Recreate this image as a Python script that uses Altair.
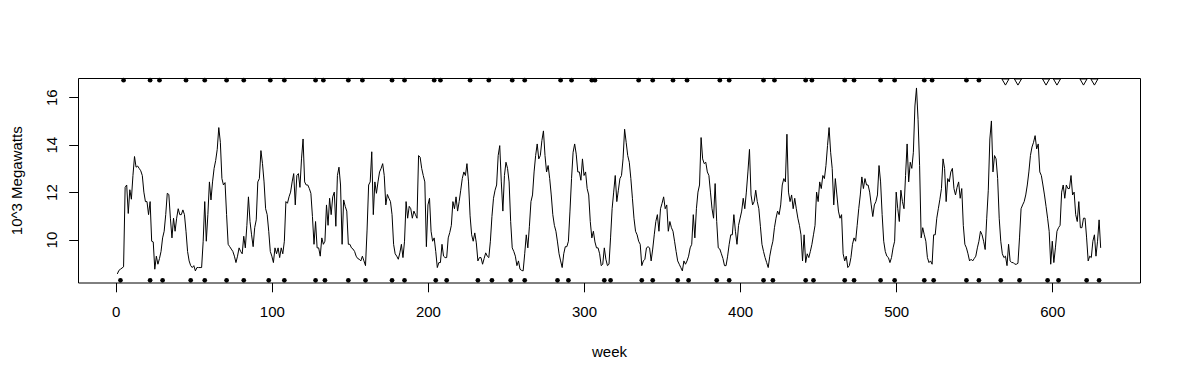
import altair as alt
import pandas as pd

# Weekly demand, 10^3 MW in segments (first week of each segment given)
seg_start = [1, 73, 154, 234, 315, 395, 474, 554]
seg_a = [8.55, 8.7, 8.75, 8.8, 8.85, 12.2, 12.3, 11.1, 12.1, 11.7, 12.7, 13.5, 13.05, 13.1, 13.0, 12.9,
         12.7, 12.0, 11.6, 11.6, 11.05, 11.6, 9.93, 9.9, 8.75, 9.3, 8.96, 9.2, 9.5, 10.07, 10.35, 11.05,
         11.95, 11.9, 10.9, 10.07, 10.9, 10.35, 10.9, 11.3, 11.05, 11.05, 11.25, 11.05, 10.35, 9.5, 9.1,
         8.9, 8.82, 8.9, 8.68, 8.82, 8.82, 8.82, 8.82, 9.93, 11.6, 9.93, 11.05, 12.43, 11.67, 12.43, 13.0,
         13.33, 13.8, 14.72, 14.1, 12.57, 12.3, 12.4, 11.05, 9.8]
seg_b = [9.7, 9.6, 9.5, 9.3, 9.03, 9.3, 9.65, 9.5, 9.4, 10.14, 9.65, 10.6, 11.8, 10.76, 10.2, 9.7, 10.5,
         10.83, 12.43, 12.57, 13.75, 13.2, 12.43, 11.3, 11.05, 10.35, 9.5, 9.3, 9.03, 9.65, 9.4, 9.65,
         9.24, 9.65, 9.4, 9.93, 11.6, 11.53, 11.8, 12.0, 12.43, 12.78, 11.46, 12.7, 12.78, 12.2, 13.4,
         14.24, 12.43, 12.3, 12.3, 12.15, 11.95, 10.97, 9.8, 10.76, 9.65, 9.65, 9.3, 10.07, 9.8, 9.93,
         11.46, 10.6, 11.74, 11.05, 11.8, 12.0, 10.56, 12.7, 13.05, 12.3, 9.8, 11.67, 11.4, 11.2, 9.8, 9.8,
         9.65, 9.6, 9.5]
seg_c = [9.3, 9.2, 9.17, 9.1, 9.3, 9.1, 8.9, 10.4, 12.3, 12.43, 13.7, 11.05, 12.43, 11.95, 12.43, 12.85,
         13.0, 13.2, 12.7, 11.46, 11.9, 11.74, 11.6, 11.05, 9.8, 9.4, 9.3, 9.17, 9.44, 9.8, 9.24, 9.93,
         11.6, 10.9, 11.4, 11.3, 10.9, 11.2, 11.05, 10.9, 13.54, 13.47, 13.0, 12.7, 12.43, 9.7, 11.46,
         11.74, 10.35, 9.93, 10.07, 9.5, 8.82, 9.03, 9.03, 9.8, 9.3, 9.24, 9.24, 10.07, 10.3, 10.6, 11.6,
         11.3, 11.8, 11.2, 11.6, 12.08, 12.57, 12.85, 12.7, 13.2, 12.43, 11.0, 10.2, 9.93, 10.28, 9.86,
         9.1, 9.24]
seg_d = [9.24, 8.96, 9.2, 9.44, 9.3, 9.24, 9.93, 10.97, 11.74, 12.08, 12.3, 13.54, 13.96, 12.43, 11.2,
         12.7, 13.26, 13.0, 12.43, 10.76, 9.65, 9.5, 9.3, 8.9, 9.1, 8.75, 8.7, 8.68, 9.4, 10.2, 9.65,
         10.56, 11.6, 11.88, 12.85, 13.54, 14.03, 13.4, 13.54, 14.17, 14.58, 13.54, 12.85, 13.12, 12.57,
         11.88, 11.05, 10.6, 10.35, 9.9, 9.4, 9.1, 8.82, 9.4, 9.7, 9.7, 9.93, 11.2, 12.57, 13.68, 14.03,
         13.6, 12.85, 12.85, 12.5, 13.4, 12.7, 12.85, 12.15, 11.88, 10.76, 10.07, 10.35, 9.9, 9.65, 9.65,
         9.4, 8.9, 8.96, 9.65, 9.17]
seg_e = [8.9, 8.96, 10.07, 11.3, 12.0, 12.7, 11.6, 12.08, 12.57, 12.7, 13.4, 14.65, 14.1, 13.54, 13.26,
         12.57, 11.74, 10.9, 10.35, 10.2, 9.93, 9.8, 8.9, 9.1, 9.17, 9.65, 9.7, 9.65, 9.1, 9.6, 10.2,
         10.76, 11.05, 10.35, 11.3, 11.53, 11.8, 11.3, 11.46, 10.35, 10.76, 10.5, 10.35, 9.93, 9.5, 9.1,
         8.96, 8.82, 8.68, 9.1, 8.96, 9.1, 9.3, 9.65, 9.8, 11.05, 10.07, 11.3, 12.0, 12.3, 14.3, 13.4,
         13.2, 13.26, 12.85, 12.7, 12.0, 11.3, 10.9, 12.36, 10.76, 9.65, 9.6, 9.4, 9.2, 8.9, 8.9, 9.3,
         9.8, 10.2]
seg_f = [10.2, 11.05, 10.35, 9.8, 10.6, 10.9, 11.2, 11.74, 11.3, 12.0, 12.85, 13.8, 11.88, 11.46, 11.6,
         12.08, 11.6, 11.3, 10.56, 9.8, 9.5, 9.24, 9.03, 8.82, 9.3, 9.65, 9.93, 10.5, 10.9, 11.2, 11.05,
         11.46, 12.3, 12.57, 12.43, 14.44, 12.0, 11.6, 11.88, 11.3, 11.74, 11.3, 10.9, 10.6, 10.2, 9.1,
         10.2, 9.03, 9.4, 9.24, 9.5, 9.8, 10.2, 10.6, 12.0, 11.6, 12.43, 12.15, 12.7, 12.57, 13.12, 13.96,
         14.72, 13.68, 13.0, 11.46, 12.57, 11.88, 11.2, 10.9, 11.05, 9.4, 9.1, 9.3, 8.82, 8.9, 9.24, 9.8,
         10.07]
seg_g = [9.93, 10.6, 11.3, 11.88, 12.64, 12.15, 12.57, 12.3, 12.3, 12.0, 11.46, 10.97, 11.46, 11.6, 11.88,
         13.12, 12.43, 11.05, 9.93, 9.5, 9.3, 9.24, 9.03, 9.24, 9.65, 9.93, 12.0, 11.3, 10.76, 12.08,
         11.6, 11.3, 12.7, 14.03, 12.43, 13.26, 13.0, 13.68, 15.63, 16.39, 15.07, 13.12, 10.07, 10.5, 10.2,
         9.93, 9.24, 9.03, 9.1, 8.96, 10.2, 10.2, 10.9, 11.3, 11.7, 12.15, 13.4, 13.0, 11.6, 12.57, 12.43,
         12.85, 13.0, 12.15, 11.88, 12.2, 12.43, 11.74, 12.15, 10.6, 9.8, 9.65, 9.4, 9.1, 9.17, 9.1, 9.2,
         9.3, 9.65, 9.93]
seg_h = [10.35, 10.2, 9.93, 9.58, 10.9, 12.08, 14.24, 15.0, 12.85, 13.54, 13.4, 12.57, 10.9, 9.93, 9.4,
         9.24, 9.3, 8.9, 9.8, 9.1, 9.03, 9.03, 8.96, 8.96, 9.0, 10.07, 11.3, 11.46, 11.6, 11.88, 12.3,
         12.85, 13.54, 13.9, 14.1, 14.38, 13.82, 14.03, 12.85, 12.7, 12.3, 11.88, 11.4, 10.9, 10.35, 8.96,
         9.93, 9.03, 9.65, 10.35, 10.5, 10.6, 12.0, 12.3, 11.74, 12.3, 12.15, 12.15, 12.7, 11.88, 12.0,
         11.05, 10.76, 11.6, 10.5, 10.5, 10.9, 10.9, 10.07, 9.1, 9.3, 9.24, 9.93, 10.2, 9.3, 9.93, 10.83,
         9.65]
segments = [seg_a, seg_b, seg_c, seg_d, seg_e, seg_f, seg_g, seg_h]

# Marker weeks
top_dot_weeks = [5, 22, 28, 45, 57, 71, 82, 99, 108, 128, 133, 149, 158, 177, 185, 204, 208, 227, 239,
                 254, 262, 285, 292, 305, 307, 335, 344, 357, 366, 387, 393, 415, 422, 442, 446, 467,
                 473, 490, 499, 518, 523, 545, 553]
bottom_dot_weeks = [3, 22, 30, 48, 57, 71, 82, 98, 108, 128, 134, 149, 160, 177, 185, 205, 212, 232, 241,
                    253, 262, 283, 290, 313, 317, 337, 344, 360, 367, 385, 393, 415, 421, 442, 447, 467,
                    473, 490, 499, 518, 524, 545, 553, 567, 579, 597, 604, 622, 630]
triangle_weeks = [570, 578, 596, 603, 620, 627]
top_level = 16.72
bottom_level = 8.28
triangle_level = 16.64

x_ticks = [0, 100, 200, 300, 400, 500, 600]
y_ticks = [10, 12, 14, 16]
x_domain = [-24.2, 656.2]
y_domain = [8.19, 16.81]

rows = []
for start, seg in zip(seg_start, segments):
    for i, v in enumerate(seg):
        rows.append({"week": start + i, "mw": v})
series = pd.DataFrame(rows)
top_df = pd.DataFrame({"week": top_dot_weeks, "mw": [top_level] * len(top_dot_weeks)})
bot_df = pd.DataFrame({"week": bottom_dot_weeks, "mw": [bottom_level] * len(bottom_dot_weeks)})
tri_df = pd.DataFrame({"week": triangle_weeks, "mw": [triangle_level] * len(triangle_weeks)})

FONT = "Liberation Sans"
W, H = 1062, 204.5

xscale = alt.Scale(domain=x_domain, nice=False, zero=False)
yscale = alt.Scale(domain=y_domain, nice=False, zero=False)

xaxis = alt.Axis(values=x_ticks, title="week", grid=False, domain=False, tickColor="black",
                 tickSize=9.3, labelFont=FONT, labelFontSize=15, labelColor="black",
                 labelBaseline="alphabetic", labelPadding=25, labelFlush=False,
                 titleFont=FONT, titleFontSize=15, titleFontWeight="normal", titleColor="black",
                 titleBaseline="alphabetic", titleY=73.7, titleX=W / 2 + 0, titleAlign="center")
yaxis = alt.Axis(values=y_ticks, title="10^3 Megawatts", grid=False, domain=False, tickColor="black",
                 tickSize=9.3, labelFont=FONT, labelFontSize=15, labelColor="black", labelAngle=270,
                 labelAlign="center", labelBaseline="alphabetic", labelPadding=12.7, labelFlush=False,
                 titleFont=FONT, titleFontSize=15, titleFontWeight="normal", titleColor="black",
                 titleAngle=270, titleAlign="center", titleBaseline="alphabetic", titleX=-57, titleY=H / 2)

line = alt.Chart(series).mark_line(color="black", strokeWidth=1, clip=True).encode(
    x=alt.X("week:Q", scale=xscale, axis=xaxis),
    y=alt.Y("mw:Q", scale=yscale, axis=yaxis),
)
top_pts = alt.Chart(top_df).mark_point(shape="circle", filled=True, color="black", size=22, opacity=1).encode(
    x=alt.X("week:Q", scale=xscale), y=alt.Y("mw:Q", scale=yscale))
bot_pts = alt.Chart(bot_df).mark_point(shape="circle", filled=True, color="black", size=22, opacity=1).encode(
    x=alt.X("week:Q", scale=xscale), y=alt.Y("mw:Q", scale=yscale))
tri_pts = alt.Chart(tri_df).mark_point(shape="triangle-down", filled=False, color="black", size=50,
                                       strokeWidth=1, opacity=1).encode(
    x=alt.X("week:Q", scale=xscale), y=alt.Y("mw:Q", scale=yscale))

chart = alt.layer(line, top_pts, bot_pts, tri_pts).properties(
    width=W, height=H,
    autosize=alt.AutoSizeParams(type="none"),
    padding={"left": 70, "top": 70, "right": 30, "bottom": 80},
    background="white",
).configure_view(stroke="black", strokeWidth=1, fill=None)

chart.save("out.html", embed_options={"renderer": "svg", "actions": False})
